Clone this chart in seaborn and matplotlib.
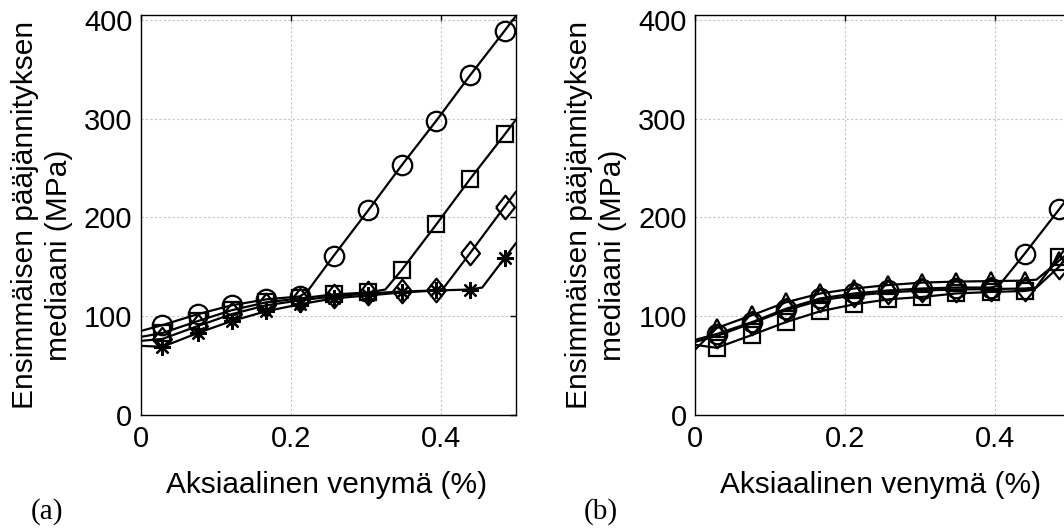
import numpy as np
import pandas as pd
import matplotlib
matplotlib.use("Agg")
import matplotlib.pyplot as plt
import seaborn as sns

# ---------------- data ----------------
# marker positions (axial strain, %)
strain_markers = [0.029, 0.076, 0.121, 0.167, 0.212, 0.257, 0.303, 0.348, 0.394, 0.439, 0.485]

# panel (a) marker values (MPa)
a_circle = [91, 102, 111, 117, 120, 161, 207, 253, 298, 344, 389]
a_square = [83, 95, 106, 114, 118, 122, 124, 147, 193, 239, 284]
a_diamond = [77, 90, 102, 111, 116, 120, 123, 125, 126, 164, 211]
a_star = [69, 83, 95, 105, 112, 118, 121, 124, 126, 127, 159]

# panel (a) extra curve points: start (x=0), knee, end (x=0.5)
a_circle_start, a_circle_knee, a_circle_end = 85, (0.222, 125), 404
a_square_start, a_square_knee, a_square_end = 79, (0.326, 127), 299
a_diamond_start, a_diamond_knee, a_diamond_end = 75, (0.403, 128), 226
a_star_start, a_star_knee, a_star_end = 70, (0.455, 129), 174

# panel (b) marker values (MPa)
b_circle = [82, 94, 107.5, 118, 123, 126, 128, 129, 129, 163, 208]
b_square = [68, 81, 94, 105, 112, 117, 119.5, 123, 124.5, 125.5, 160]
b_triangle = [88, 101, 114, 123, 128, 131.5, 134, 135, 135.5, 136, 156]
b_diamond = [80, 93, 106, 116, 121, 124, 126, 127, 127.5, 128, 150]

b_circle_start, b_circle_knee, b_circle_end = 76, (0.405, 131), 223
b_square_start, b_square_knee, b_square_end = 71, (0.452, 127), 175
b_triangle_start, b_triangle_knee, b_triangle_end = 66, (0.455, 137), 166
b_diamond_start, b_diamond_knee, b_diamond_end = 74, (0.455, 129), 165

x_ticks = [0, 0.2, 0.4]
x_ticklabels = ["0", "0.2", "0.4"]
y_ticks = [0, 100, 200, 300, 400]
y_ticklabels = ["0", "100", "200", "300", "400"]

xlabel_text = "Aksiaalinen venymä (%)"
ylabel_line1 = "Ensimmäisen pääjännityksen"
ylabel_line2 = "mediaani (MPa)"
panel_tags = ["(a)", "(b)"]

# ---------------- styling ----------------
sns.set_theme(style="white")
plt.rcParams["font.family"] = ["Liberation Sans", "DejaVu Sans"]

W, H = 1064, 531
fig = plt.figure(figsize=(W / 100, H / 100), dpi=100)
fig.patch.set_facecolor("white")

ax_left_px = [140.7, 695.0]
ax_top_px, ax_bot_px = 15.3, 415.0
ax_w_px = 375.3

diamond_marker = [(-0.8, 0), (0, 1), (0.8, 0), (0, -1), (-0.8, 0)]
marker_styles = {
    "circle": dict(marker="o", markersize=14),
    "square": dict(marker="s", markersize=11),
    "diamond": dict(marker=diamond_marker, markersize=17),
    "star": dict(marker=(8, 2, 0), markersize=12),
    "triangle": dict(marker="^", markersize=13),
}


def curve_frame(name, start, markers, knee, end):
    xs = [0.0] + list(strain_markers) + [knee[0], 0.5]
    ys = [start] + list(markers) + [knee[1], end]
    df = pd.DataFrame({"strain": xs, "stress": ys})
    df = df.sort_values("strain")
    df["series"] = name
    return df


panels = [
    [
        curve_frame("circle", a_circle_start, a_circle, a_circle_knee, a_circle_end),
        curve_frame("square", a_square_start, a_square, a_square_knee, a_square_end),
        curve_frame("diamond", a_diamond_start, a_diamond, a_diamond_knee, a_diamond_end),
        curve_frame("star", a_star_start, a_star, a_star_knee, a_star_end),
    ],
    [
        curve_frame("circle", b_circle_start, b_circle, b_circle_knee, b_circle_end),
        curve_frame("square", b_square_start, b_square, b_square_knee, b_square_end),
        curve_frame("triangle", b_triangle_start, b_triangle, b_triangle_knee, b_triangle_end),
        curve_frame("diamond", b_diamond_start, b_diamond, b_diamond_knee, b_diamond_end),
    ],
]
panel_markers = [
    {"circle": a_circle, "square": a_square, "diamond": a_diamond, "star": a_star},
    {"circle": b_circle, "square": b_square, "triangle": b_triangle, "diamond": b_diamond},
]

for i, (curves, mk) in enumerate(zip(panels, panel_markers)):
    left = ax_left_px[i]
    ax = fig.add_axes([left / W, 1 - ax_bot_px / H, ax_w_px / W, (ax_bot_px - ax_top_px) / H])
    ax.set_facecolor("white")

    line_df = pd.concat(curves, ignore_index=True)
    sns.lineplot(data=line_df, x="strain", y="stress", hue="series",
                 palette=["black"] * len(curves), estimator=None, sort=False,
                 legend=False, linewidth=1.6, ax=ax)

    for name, vals in mk.items():
        mdf = pd.DataFrame({"strain": strain_markers, "stress": vals})
        st = marker_styles[name]
        sns.lineplot(data=mdf, x="strain", y="stress", ax=ax, color="black",
                     linestyle="", marker=st["marker"], markersize=st["markersize"],
                     markerfacecolor="none", markeredgecolor="black",
                     markeredgewidth=1.6, legend=False)

    ax.set_xlim(0, 0.5)
    ax.set_ylim(0, 404.5)
    ax.set_xticks(x_ticks)
    ax.set_xticklabels(x_ticklabels)
    ax.set_yticks(y_ticks)
    ax.set_yticklabels(y_ticklabels)
    ax.set_xlabel("")
    ax.set_ylabel("")
    ax.grid(True, color="#c4c4c4", linestyle=(0, (2, 2)), linewidth=0.8)
    ax.set_axisbelow(True)
    for sp in ax.spines.values():
        sp.set_visible(True)
        sp.set_color("black")
        sp.set_linewidth(1.0)
    ax.tick_params(axis="both", direction="in", length=4, width=1.0,
                   top=True, right=True, colors="black", labelsize=21)
    ax.tick_params(axis="x", pad=7.5)
    ax.tick_params(axis="y", pad=6)

    off = left - ax_left_px[0]
    # axis labels
    fig.text((left + ax_w_px / 2 - 2) / W, 1 - 493 / H, xlabel_text,
             ha="center", va="baseline", fontsize=21.5, color="black")
    fig.text((33 + off) / W, 1 - 215 / H, ylabel_line1, rotation=90,
             rotation_mode="anchor", ha="center", va="baseline",
             fontsize=21.5, color="black")
    fig.text((67 + off) / W, 1 - 255 / H, ylabel_line2, rotation=90,
             rotation_mode="anchor", ha="center", va="baseline",
             fontsize=21.5, color="black")
    # panel tag
    fig.text((47.5 + off - (1 if i else 0)) / W, 1 - 512 / H, panel_tags[i],
             ha="center", va="center", fontsize=21,
             family=["Liberation Serif", "DejaVu Serif"], color="black")

fig.savefig("out.png", dpi=100, facecolor="white")
